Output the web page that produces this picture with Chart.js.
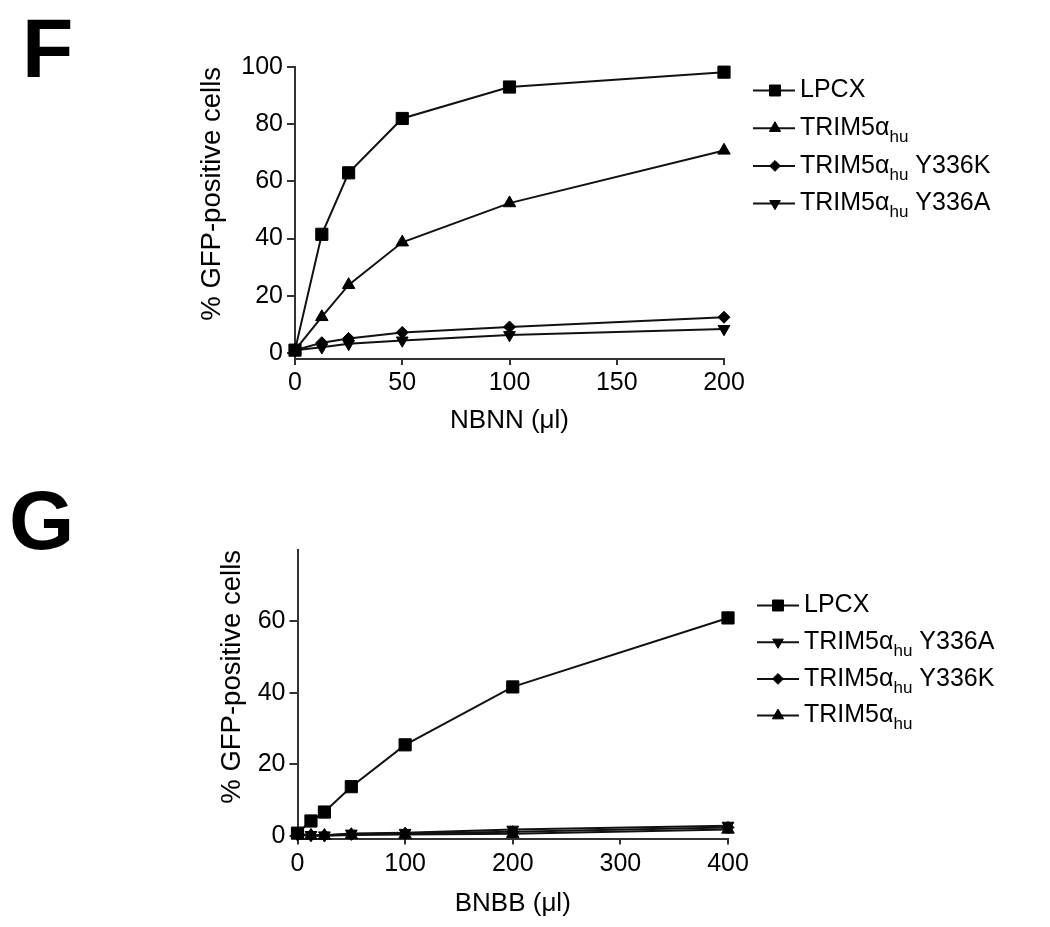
<!DOCTYPE html>
<html>
<head>
<meta charset="utf-8">
<script src="https://cdn.jsdelivr.net/npm/chart.js@4.4.1/dist/chart.umd.min.js"></script>
<style>
  html, body { margin: 0; padding: 0; background: #fff; }
  canvas { display: block; }
</style>
</head>
<body>
<canvas id="chartF" width="1050" height="460"></canvas>
<canvas id="chartG" width="1050" height="467"></canvas>
<script>
const FONT = '"Liberation Sans", Arial, sans-serif';
const AXIS = "#333";
const INK = "#111";

// panel F - NBNN dose
const doseF = [0, 12.5, 25, 50, 100, 200];
const lpcxF = [1, 41.5, 63, 82, 93, 98.2];
const trimF = [1, 12.6, 23.8, 38.7, 52.4, 70.8];
const y336kF = [1, 3.6, 5.1, 7.2, 9.1, 12.5];
const y336aF = [1, 2.0, 3.2, 4.4, 6.3, 8.4];
const xTicksF = [0, 50, 100, 150, 200];
const yTicksF = [0, 20, 40, 60, 80, 100];

// panel G - BNBB dose
const doseG = [0, 12.5, 25, 50, 100, 200, 400];
const lpcxG = [0.8, 4.2, 6.7, 13.8, 25.5, 41.7, 61];
const y336aG = [0.5, 0.3, 0.2, 0.7, 0.9, 1.8, 2.9];
const y336kG = [0.5, 0.2, 0.2, 0.5, 0.7, 1.2, 2.4];
const trimG = [0.3, 0.1, 0.1, 0.3, 0.4, 0.6, 1.8];
const xTicksG = [0, 100, 200, 300, 400];
const yTicksG = [0, 20, 40, 60];

// marker look per series
const markers = {
  "LPCX": { pointStyle: "rect", pointRotation: 0, pointRadius: 8.6 },
  "TRIM5αhu": { pointStyle: "triangle", pointRotation: 0, pointRadius: 7.2 },
  "TRIM5αhu Y336K": { pointStyle: "rectRot", pointRotation: 0, pointRadius: 6 },
  "TRIM5αhu Y336A": { pointStyle: "triangle", pointRotation: 180, pointRadius: 6.8 },
};

function series(label, xs, ys) {
  return Object.assign({
    label,
    data: xs.map((x, i) => ({ x, y: ys[i] })),
    borderColor: INK,
    backgroundColor: "#000",
    pointBackgroundColor: "#000",
    pointBorderColor: "#000",
    pointBorderWidth: 1,
    borderWidth: 2,
    tension: 0,
    clip: false,
  }, markers[label]);
}

// label with "hu" drawn as subscript
function drawLabel(ctx, text, x, y) {
  const parts = text.split("hu");
  ctx.textBaseline = "middle";
  ctx.textAlign = "left";
  ctx.font = "25px " + FONT;
  ctx.fillText(parts[0], x, y);
  if (parts.length < 2) return;
  let cx = x + ctx.measureText(parts[0]).width;
  ctx.font = "17px " + FONT;
  ctx.fillText("hu", cx, y + 9);
  cx += ctx.measureText("hu").width;
  ctx.font = "25px " + FONT;
  ctx.fillText(parts[1], cx, y);
}

const panelDecor = {
  id: "panelDecor",
  afterDraw(chart, args, opts) {
    const ctx = chart.ctx;
    ctx.save();
    ctx.fillStyle = "#000";
    ctx.font = "bold 84px " + FONT;
    ctx.textBaseline = "alphabetic";
    ctx.textAlign = "left";
    ctx.fillText(opts.letter, opts.letterX, opts.letterY);

    chart.data.datasets.forEach((ds, i) => {
      const y = opts.y0 + i * opts.gap;
      ctx.strokeStyle = INK;
      ctx.lineWidth = 2;
      ctx.beginPath();
      ctx.moveTo(opts.x1, y);
      ctx.lineTo(opts.x2, y);
      ctx.stroke();
      ctx.fillStyle = "#000";
      ctx.strokeStyle = "#000";
      ctx.lineWidth = 1;
      Chart.helpers.drawPoint(ctx, {
        pointStyle: ds.pointStyle,
        rotation: ds.pointRotation,
        radius: ds.pointRadius * 0.9,
        borderWidth: 1,
      }, opts.xm, y);
      ctx.fillStyle = "#000";
      drawLabel(ctx, ds.label, opts.xt, y);
    });
    ctx.restore();
  },
};

function xAxis(max, ticks, title, height, pad) {
  return {
    type: "linear",
    min: 0,
    max,
    afterBuildTicks: (s) => { s.ticks = ticks.map((v) => ({ value: v })); },
    afterFit: (s) => { s.height = height; },
    border: { display: true, color: AXIS, width: 2 },
    grid: { drawOnChartArea: false, drawTicks: true, tickLength: 6, color: AXIS, lineWidth: 2 },
    ticks: { color: "#000", padding: pad, maxRotation: 0, font: { family: FONT, size: 25 } },
    title: { display: true, text: title, color: "#000", padding: 0, font: { family: FONT, size: 26 } },
  };
}

function yAxis(min, max, ticks, width) {
  return {
    type: "linear",
    min,
    max,
    afterBuildTicks: (s) => { s.ticks = ticks.map((v) => ({ value: v })); },
    afterFit: (s) => { s.width = width; },
    border: { display: true, color: AXIS, width: 2 },
    grid: { drawOnChartArea: false, drawTicks: true, tickLength: 8, color: AXIS, lineWidth: 2 },
    ticks: { color: "#000", padding: 4, font: { family: FONT, size: 25 } },
    title: {
      display: true,
      text: "% GFP-positive cells",
      align: "end",
      color: "#000",
      padding: 0,
      font: { family: FONT, size: 27.5 },
    },
  };
}

const chartF = new Chart(document.getElementById("chartF").getContext("2d"), {
  type: "line",
  data: {
    datasets: [
      series("LPCX", doseF, lpcxF),
      series("TRIM5αhu", doseF, trimF),
      series("TRIM5αhu Y336K", doseF, y336kF),
      series("TRIM5αhu Y336A", doseF, y336aF),
    ],
  },
  options: {
    responsive: false,
    animation: false,
    devicePixelRatio: 1,
    layout: { padding: { top: 67, left: 196, right: 326, bottom: 23.4 } },
    scales: {
      x: xAxis(200, xTicksF, "NBNN (μl)", 77.6, 3),
      y: yAxis(-2.1, 100, yTicksF, 99),
    },
    plugins: {
      legend: { display: false },
      panelDecor: {
        letter: "F", letterX: 22, letterY: 77,
        x1: 753, x2: 795, xm: 775, xt: 800, y0: 90.5, gap: 37.7,
      },
    },
  },
  plugins: [panelDecor],
});

const chartG = new Chart(document.getElementById("chartG").getContext("2d"), {
  type: "line",
  data: {
    datasets: [
      series("LPCX", doseG, lpcxG),
      series("TRIM5αhu Y336A", doseG, y336aG),
      series("TRIM5αhu Y336K", doseG, y336kG),
      series("TRIM5αhu", doseG, trimG),
    ],
  },
  options: {
    responsive: false,
    animation: false,
    devicePixelRatio: 1,
    layout: { padding: { top: 90, left: 216, right: 322, bottom: 7.4 } },
    scales: {
      x: xAxis(400, xTicksG, "BNBB (μl)", 81.1, 5),
      y: yAxis(-0.7, 80, yTicksG, 81.5),
    },
    plugins: {
      legend: { display: false },
      panelDecor: {
        letter: "G", letterX: 9, letterY: 89,
        x1: 757, x2: 799, xm: 778, xt: 804, y0: 145.5, gap: 36.7,
      },
    },
  },
  plugins: [panelDecor],
});
</script>
</body>
</html>
